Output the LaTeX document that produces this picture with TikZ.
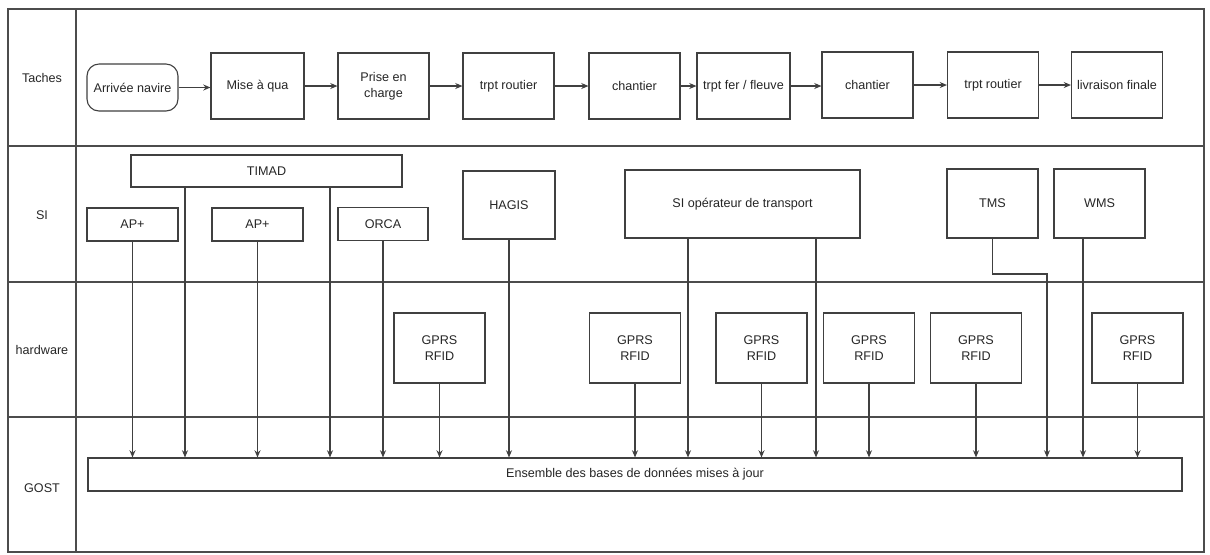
\documentclass[tikz,border=0pt]{standalone}
\usepackage{fontspec}
\setmainfont{Liberation Sans}
\usetikzlibrary{arrows.meta}

\begin{document}
\begin{tikzpicture}[x=0.5pt, y=-0.5pt, >={Stealth[length=3.6pt,width=3pt]},
    every node/.style={font=\fontsize{6.3}{7.8}\selectfont, text=black!85},
    box/.style={draw=black!75, line width=0.55pt, fill=white, align=center, inner sep=1pt},
    sz/.style n args={2}{minimum width=#1*0.5pt, minimum height=#2*0.5pt},
    lane/.style={draw=black!70, line width=0.6pt},
    flow/.style={->, draw=black!75, line width=0.55pt}]
    \useasboundingbox (0,0) rectangle (1210,554);

    \draw[lane] (8,9) rectangle (1204,552);
    \draw[lane] (76,9) -- (76,552);
    \draw[lane] (8,146) -- (1204,146);
    \draw[lane] (8,282) -- (1204,282);
    \draw[lane] (8,417) -- (1204,417);

    \node (lt) at (42,78) {Taches};
    \node (lsi) at (42,215) {SI};
    \node (lhw) at (42,350) {hardware};
    \node (lg) at (42,488) {GOST};

    \node[box, rounded corners=6pt, sz={91}{47}] (arr) at (132.5,87.5) {Arrivée navire};
    \node[box, sz={93}{66}] (mise) at (257.5,86) {Mise à qua};
    \node[box, sz={91}{66}] (prise) at (383.5,86) {Prise en\\charge};
    \node[box, sz={91}{66}] (trpt1) at (508.5,86) {trpt routier};
    \node[box, sz={91}{66}] (chan1) at (634.5,86) {chantier};
    \node[box, sz={93}{66}] (fer) at (743.5,86) {trpt fer / fleuve};
    \node[box, sz={91}{66}] (chan2) at (867.5,85) {chantier};
    \node[box, sz={91}{66}] (trpt2) at (993,85) {trpt routier};
    \node[box, sz={91}{66}] (livr) at (1117,85) {livraison finale};
    \foreach \a/\b in {arr/mise, mise/prise, prise/trpt1, trpt1/chan1, chan1/fer, fer/chan2, chan2/trpt2, trpt2/livr}
        \draw[flow] (\a.east) -- (\a.east -| \b.west);

    \node[box, sz={271}{32}] (timad) at (266.5,171) {TIMAD};
    \node[box, sz={91}{33}] (ap1) at (132.5,224.5) {AP+};
    \node[box, sz={91}{33}] (ap2) at (257.5,224.5) {AP+};
    \node[box, sz={90}{33}] (orca) at (383,224) {ORCA};
    \node[box, sz={92}{68}] (hagis) at (509,205) {HAGIS};
    \node[box, sz={235}{68}] (siop) at (742.5,204) {SI opérateur de transport};
    \node[box, sz={91}{69}] (tms) at (992.5,203.5) {TMS};
    \node[box, sz={91}{69}] (wms) at (1099.5,203.5) {WMS};

    \foreach \n/\x in {g1/439.5, g2/635, g3/761.5, g4/869, g5/976, g6/1137.5}
        \node[box, sz={91}{70}] (\n) at (\x,348) {GPRS\\RFID};

    \node[box, sz={1094}{33}] (db) at (635,474.5) {Ensemble des bases de données mises à jour};

    \coordinate (t1) at (185,0);
    \coordinate (t2) at (330,0);
    \coordinate (s1) at (688,0);
    \coordinate (s2) at (816,0);
    \coordinate (w1) at (1083,0);
    \coordinate (tmsbend) at (1047,274);

    \foreach \n in {ap1, ap2, orca, hagis, g1, g2, g3, g4, g5, g6}
        \draw[flow] (\n.south) -- (\n.south |- db.north);
    \foreach \c in {t1, t2}
        \draw[flow] (\c |- timad.south) -- (\c |- db.north);
    \foreach \c in {s1, s2}
        \draw[flow] (\c |- siop.south) -- (\c |- db.north);
    \draw[flow] (w1 |- wms.south) -- (w1 |- db.north);
    \draw[flow] (tms.south) |- (tmsbend) -- (tmsbend |- db.north);
\end{tikzpicture}
\end{document}
